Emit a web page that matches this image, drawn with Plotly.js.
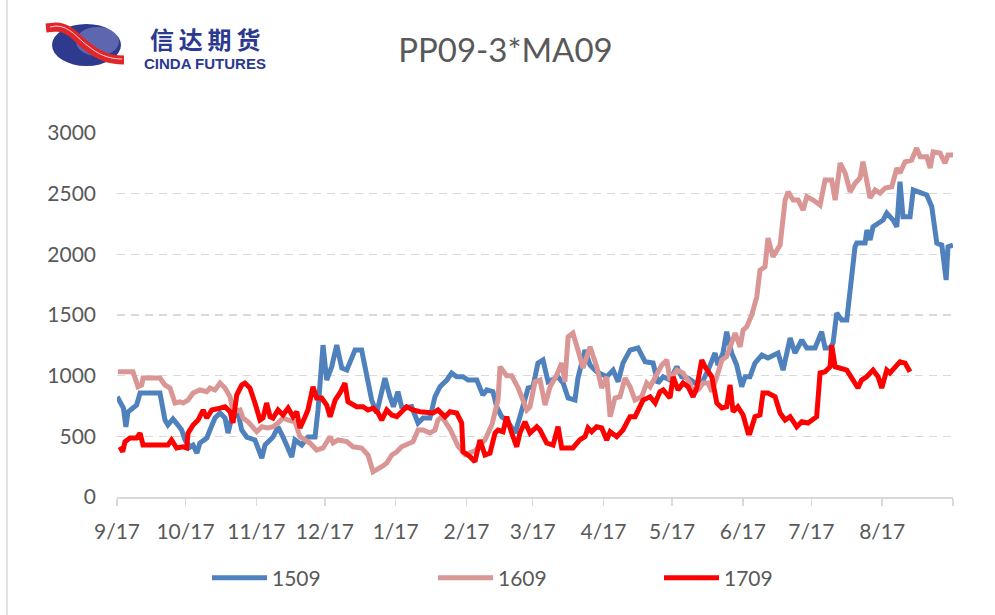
<!DOCTYPE html>
<html>
<head>
<meta charset="utf-8">
<script src="https://cdn.plot.ly/plotly-3.0.1.min.js"></script>
<style>html,body{margin:0;padding:0;background:#fff;}#chart{width:995px;height:615px;}</style>
</head>
<body>
<div id="chart"></div>
<script>
// ---- data (x = days since 9/17) ----
const tickDays = [0,30,61,91,122,153,182,213,243,274,304,335,366];
const tickLabels = ['9/17','10/17','11/17','12/17','1/17','2/17','3/17','4/17','5/17','6/17','7/17','8/17',''];

const seriesNames = ['1509','1609','1709'];

const d1509 = [0.1,2.8,3.9,4.8,8.6,10.1,18.8,21.0,22.3,24.5,
26.7,28.3,29.8,32.0,33.3,35.0,36.3,39.3,40.7,42.9,
45.1,47.3,48.6,50.2,53.0,54.6,56.8,60.4,63.4,64.8,
68.3,70.5,72.7,76.5,77.9,80.9,83.6,86.7,88.0,90.2,
91.8,94.0,96.2,98.4,100.6,102.8,104.2,107.1,109.3,111.5,
113.7,117.3,119.5,121.0,123.0,124.6,126.1,129.0,131.8,134.0,
137.0,139.2,141.4,144.4,146.5,148.7,151.5,153.7,157.5,160.2,
161.9,164.6,166.2,168.4,170.6,172.8,174.3,176.4,178.6,180.0,
182.1,184.3,186.5,188.7,193.1,195.3,197.5,200.5,201.8,204.9,
207.1,210.0,214.4,217.2,219.4,221.5,224.6,228.1,231.2,234.7,
236.8,239.1,242.1,245.1,247.2,250.0,253.1,256.0,258.8,261.8,
263.1,265.3,266.9,269.1,271.3,273.5,275.0,277.1,279.3,282.3,
285.0,289.4,291.6,294.7,296.8,299.8,302.0,305.6,308.5,310.0,
312.2,313.5,315.1,317.3,319.5,320.9,323.1,323.9,327.5,328.3,
329.7,331.0,335.4,337.0,339.8,341.4,342.8,344.1,347.2,348.6,
354.5,356.7,358.9,361.1,363.0,363.8,366.0];
const v1509 = [826,733,577,700,758,857,857,634,593,643,
593,552,470,412,428,362,445,486,552,651,
692,651,527,651,692,552,494,470,321,428,
494,577,494,330,470,428,494,494,717,1252,
964,1074,1252,1063,1046,1156,1211,1211,1022,799,
692,980,826,744,868,744,733,744,610,651,
651,826,909,964,1022,991,991,964,964,840,
882,868,744,662,634,579,527,662,826,898,
909,1104,1129,950,991,939,816,799,980,1211,
1087,1032,991,1046,950,1104,1211,1228,1115,1104,
939,991,964,1074,991,980,939,939,1046,1187,
1087,1187,1362,1187,1087,909,991,991,1104,1170,
1145,1187,1046,1310,1187,1294,1228,1228,1362,1228,
1228,1269,1516,1458,1458,1706,2062,2093,2093,2200,
2118,2227,2282,2340,2282,2227,2598,2310,2310,2530,
2489,2392,2093,2076,1788,2062,2076];

const d1609 = [0.4,7.0,9.2,10.8,11.4,18.8,21.0,23.2,25.4,27.6,
28.9,31.1,33.3,36.3,39.3,40.7,42.9,45.1,47.3,49.5,
50.8,53.9,55.2,57.4,61.2,63.4,66.1,68.3,70.5,72.7,
74.9,77.9,80.1,82.3,84.5,87.4,90.2,93.3,94.6,96.8,
100.6,103.3,107.1,109.9,112.1,115.9,118.1,120.3,122.5,124.6,
126.8,129.6,131.8,134.0,137.0,139.2,140.5,142.2,145.8,149.3,
152.4,156.7,161.1,164.2,166.8,167.7,170.6,172.8,175.6,179.4,
180.8,183.0,185.2,187.4,189.6,192.5,194.7,196.1,197.5,199.6,
201.8,204.0,207.1,210.0,212.2,214.4,215.9,218.0,220.2,222.4,
224.6,226.8,229.7,231.9,233.4,235.6,238.5,240.7,242.1,245.1,
247.8,250.9,252.2,254.4,256.6,258.8,260.4,262.6,264.8,266.9,
269.1,270.6,272.8,274.1,275.7,277.9,280.1,281.5,283.7,285.0,
287.2,290.3,292.5,293.8,296.0,298.2,300.4,302.0,304.8,307.8,
310.0,312.9,314.4,316.6,318.8,321.0,323.2,325.3,326.6,329.7,
331.9,334.1,336.3,339.2,341.4,342.8,345.0,347.9,350.1,351.6,
354.5,356.0,357.3,360.3,362.5,363.8,366.0];
const v1609 = [1032,1032,909,923,980,980,923,898,775,785,
775,799,857,882,868,898,882,939,898,826,
703,717,651,620,538,579,569,579,610,651,
634,620,497,470,445,387,404,497,445,470,
456,414,404,346,208,250,280,346,373,414,
428,456,552,552,527,552,634,662,560,420,
350,380,470,600,800,1074,1000,1000,900,717,
744,950,964,758,909,1005,1104,950,1321,1351,
1211,1063,1238,1074,898,991,662,816,826,980,
909,799,826,939,909,980,1087,1129,964,1046,
1022,939,857,882,939,939,868,991,1129,1156,
1269,1351,1238,1376,1403,1500,1650,1870,1898,2134,
1980,2076,2447,2516,2447,2447,2365,2475,2447,2406,
2612,2612,2447,2752,2670,2516,2587,2629,2763,2464,
2530,2505,2546,2557,2711,2670,2763,2777,2876,2804,
2804,2711,2845,2835,2752,2818,2818];

const d1709 = [1.3,2.5,3.5,5.7,8.6,10.1,11.4,14.4,22.3,23.9,
26.1,28.9,30.5,31.1,33.3,35.5,37.7,39.3,41.5,45.1,
47.3,49.5,50.8,52.4,54.6,56.0,58.2,60.4,62.6,63.9,
65.5,67.0,68.3,70.5,72.7,74.9,77.1,78.7,80.1,81.4,
83.6,85.8,87.4,89.6,91.8,93.3,95.5,97.6,99.8,101.1,
104.9,107.7,109.9,112.1,114.3,115.9,118.1,120.3,122.5,124.6,
126.8,129.6,132.7,138.4,140.5,143.6,145.8,148.7,150.9,151.5,
154.6,156.7,158.9,161.1,163.3,165.5,166.8,169.0,170.6,172.8,
175.0,176.4,178.6,180.8,183.8,185.2,188.1,190.9,193.1,194.7,
199.6,202.6,204.9,206.2,207.8,210.0,212.2,214.4,215.9,218.8,
221.5,224.6,226.8,230.3,233.4,235.6,237.7,239.1,242.1,243.5,
245.6,247.8,250.0,252.2,253.8,256.0,257.4,260.4,262.6,264.8,
266.9,268.4,269.7,271.8,274.1,276.3,277.1,279.3,281.5,282.8,
285.0,288.1,290.3,292.5,294.7,297.6,299.8,302.5,306.3,307.8,
310.0,312.2,312.9,314.4,316.6,319.5,321.7,324.4,326.0,328.2,
331.0,333.2,334.8,337.0,338.4,340.6,342.8,345.0,347.2];
const v1709 = [414,373,456,486,486,527,428,428,428,470,
404,414,404,527,593,634,717,651,717,733,
744,703,610,840,923,939,898,775,634,651,
775,662,651,717,676,733,662,703,569,620,
717,909,816,816,758,662,799,857,939,785,
744,744,717,733,692,634,717,676,662,703,
744,717,703,692,717,662,703,692,610,373,
332,291,470,346,362,527,552,538,662,527,
414,527,620,527,579,552,445,428,579,404,
404,470,497,569,538,579,569,470,538,497,
552,662,662,799,826,775,868,882,816,991,
882,939,909,826,898,1129,1074,991,775,733,
744,923,703,744,676,527,527,662,676,857,
857,826,692,634,662,579,620,610,662,1022,
1032,1074,1252,1074,1063,1046,980,898,964,991,
1046,991,898,1046,1022,1074,1115,1104,1032];

// ---- styling ----
const colors = ['#4F81BD','#D99694','#FF0000'];
const FONT = 'Lato, "Open Sans", "Liberation Sans", sans-serif';
const L = 117, R = 42, T = 133, B = 118, W = 995 - L - R, H = 615 - T - B;
const fx = p => (p - L) / W;
const fy = p => (T + H - p) / H;

const xs = [d1509, d1609, d1709];
const ys = [v1509, v1609, v1709];
const traces = seriesNames.map((n, i) => ({
  x: xs[i], y: ys[i], name: n, type: 'scatter', mode: 'lines',
  line: {color: colors[i], width: 5}
}));

const pt = (x, y) => `${fx(x)},${fy(y)}`;
const swoosh = `M ${pt(46,28)} L ${pt(56,27)} C ${pt(70,27)} ${pt(78,40)} ${pt(88,47)} C ${pt(98,55)} ${pt(108,60)} ${pt(124,60)}`;
const swooshW = `M ${pt(50,27)} L ${pt(56,26)} C ${pt(70,26)} ${pt(78,39)} ${pt(88,46)} C ${pt(98,54)} ${pt(108,59)} ${pt(122,59)}`;

const layout = {
  width: 995, height: 615,
  margin: {l: L, r: R, t: T, b: B},
  paper_bgcolor: '#ffffff', plot_bgcolor: '#ffffff',
  font: {family: FONT, color: '#595959', size: 21},
  title: {text: 'PP09-3*MA09', x: 0.508, xanchor: 'center', y: 0.918, yanchor: 'middle',
          font: {family: FONT, size: 33, color: '#595959'}},
  xaxis: {
    range: [0, 366], tickmode: 'array', tickvals: tickDays, ticktext: tickLabels,
    showgrid: false, zeroline: false, showline: true, linecolor: '#D9D9D9', linewidth: 1.5,
    ticks: 'outside', ticklen: 7, tickcolor: '#D9D9D9', tickwidth: 1.5,
    ticklabelstandoff: 8, tickfont: {family: FONT, size: 21, color: '#595959'}
  },
  yaxis: {
    range: [0, 3000], dtick: 500, tick0: 0, showline: false, zeroline: false,
    showgrid: true, gridcolor: '#D9D9D9', gridwidth: 1.5, griddash: '8px,6px',
    ticks: '', ticklabelstandoff: 20, tickfont: {family: FONT, size: 21, color: '#595959'}
  },
  showlegend: true,
  legend: {orientation: 'h', x: fx(207), xanchor: 'left', y: fy(578), yanchor: 'middle',
           font: {family: FONT, size: 21, color: '#595959'}, entrywidth: 156, itemwidth: 55},
  shapes: [
    {type: 'line', xref: 'paper', yref: 'paper', x0: fx(7), x1: fx(7), y0: fy(0), y1: fy(615),
     line: {color: '#D9D9D9', width: 1.5}},
    {type: 'circle', xref: 'paper', yref: 'paper', x0: fx(52), x1: fx(121), y0: fy(24), y1: fy(66),
     fillcolor: '#2D3A8E', line: {width: 0}},
    {type: 'circle', xref: 'paper', yref: 'paper', x0: fx(76), x1: fx(119), y0: fy(27), y1: fy(56),
     fillcolor: 'rgba(150,160,215,0.45)', line: {width: 0}},
    {type: 'path', xref: 'paper', yref: 'paper', path: swoosh, line: {color: '#E0262B', width: 9}},
    {type: 'path', xref: 'paper', yref: 'paper', path: swooshW, line: {color: 'rgba(255,255,255,0.8)', width: 1}}
  ],
  annotations: [
    {text: '信\u2009达\u2009期\u2009货', xref: 'paper', yref: 'paper', x: fx(205), y: fy(38), xanchor: 'center', yanchor: 'middle',
     showarrow: false, font: {family: '"Noto Sans CJK SC", sans-serif', size: 24, color: '#2B3990', weight: 700}},
    {text: 'CINDA FUTURES', xref: 'paper', yref: 'paper', x: fx(205), y: fy(63), xanchor: 'center', yanchor: 'middle',
     showarrow: false, font: {family: '"Liberation Sans", Arial, sans-serif', size: 15, color: '#2B3990', weight: 700}}
  ]
};

Plotly.newPlot('chart', traces, layout, {displayModeBar: false, staticPlot: true});
</script>
</body>
</html>
